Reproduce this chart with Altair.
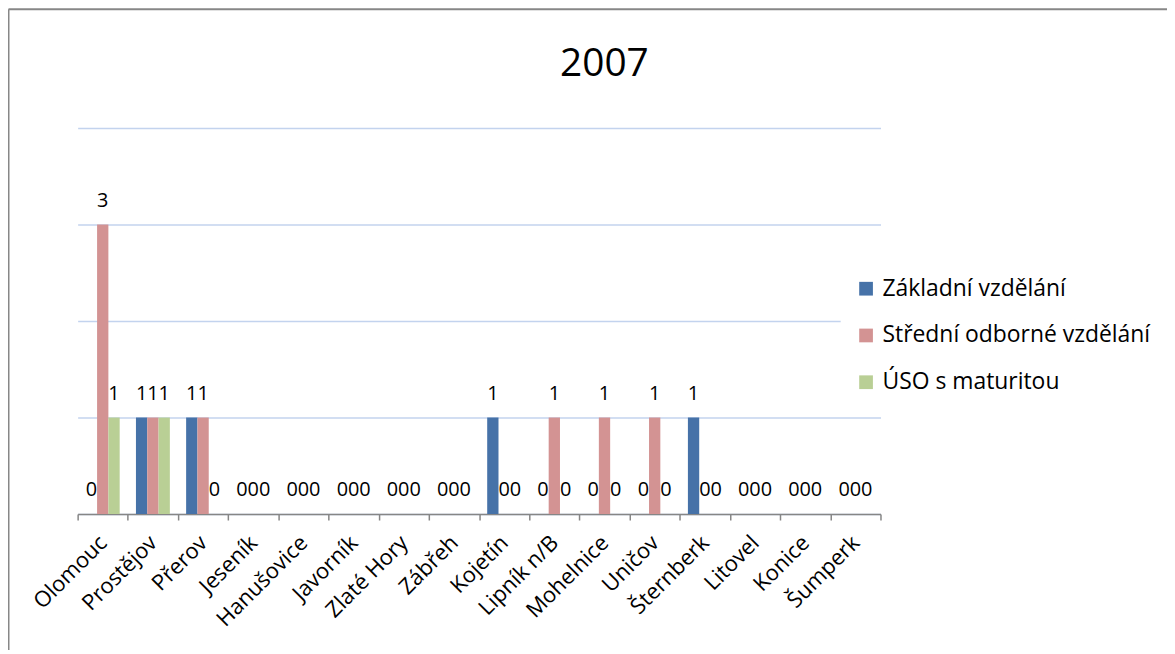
import altair as alt
import pandas as pd

categories = ["Olomouc", "Prostějov", "Přerov", "Jeseník", "Hanušovice", "Javorník",
              "Zlaté Hory", "Zábřeh", "Kojetín", "Lipník n/B", "Mohelnice", "Uničov",
              "Šternberk", "Litovel", "Konice", "Šumperk"]
series = ["Základní vzdělání", "Střední odborné vzdělání", "ÚSO s maturitou"]
zakladni = [0, 1, 1, 0, 0, 0, 0, 0, 1, 0, 0, 0, 1, 0, 0, 0]
stredni = [3, 1, 1, 0, 0, 0, 0, 0, 0, 1, 1, 1, 0, 0, 0, 0]
uso = [1, 1, 0, 0, 0, 0, 0, 0, 0, 0, 0, 0, 0, 0, 0, 0]
colors = ["#4672A8", "#D39393", "#B9CF95"]
grid_values = [0, 1, 2, 3, 4]

rows = []
for s, vals in zip(series, [zakladni, stredni, uso]):
    for c, v in zip(categories, vals):
        rows.append({"mesto": c, "serie": s, "pocet": v})
df = pd.DataFrame(rows)

FONT = "Open Sans"

x_enc = alt.X("mesto:N", sort=categories, title=None,
              scale=alt.Scale(paddingInner=0, paddingOuter=0),
              axis=alt.Axis(labelAngle=-45, labelAlign="right", labelBaseline="middle",
                            labelFontSize=22, labelColor="#000000", labelFont=FONT,
                            labelPadding=19, tickBand="extent", tickSize=6,
                            tickColor="#868686", tickWidth=1.5, domainColor="#868686",
                            domainWidth=1.5, grid=False, labelOverlap=False,
                            labelLimit=300))
xo_enc = alt.XOffset("serie:N", sort=series,
                     scale=alt.Scale(paddingInner=0, paddingOuter=0.72))
y_enc = alt.Y("pocet:Q", title=None,
              scale=alt.Scale(domain=[0, 4], nice=False, zero=True),
              axis=alt.Axis(labels=False, ticks=False, domain=False, grid=True,
                            values=grid_values, labelOverlap=False,
                            gridColor="#C3D3EE", gridWidth=1.5))

bars = alt.Chart(df).mark_bar().encode(
    x=x_enc, xOffset=xo_enc, y=y_enc,
    color=alt.Color("serie:N", sort=series,
                    scale=alt.Scale(domain=series, range=colors),
                    legend=alt.Legend(title=None, orient="none", legendX=767, legendY=136,
                                      fillColor="#FFFFFF", padding=14,
                                      symbolType="square", symbolSize=190,
                                      symbolStrokeWidth=0, labelFontSize=23,
                                      labelFont=FONT, labelColor="#000000",
                                      rowPadding=23, labelOffset=5, labelLimit=400)),
)

labels = alt.Chart(df).mark_text(fontSize=20, font=FONT, color="#000000",
                                 baseline="alphabetic", dy=-18).encode(
    x=x_enc, xOffset=xo_enc, y=y_enc, text="pocet:Q",
)

frame_df = pd.DataFrame({"k": [0]})
frame_left = alt.Chart(frame_df).mark_rule(color="#878787", strokeWidth=2).encode(
    x=alt.value(-69.5), y=alt.value(-119.5), y2=alt.value(700))
frame_top = alt.Chart(frame_df).mark_rule(color="#878787", strokeWidth=2).encode(
    x=alt.value(-69.5), x2=alt.value(1200), y=alt.value(-119.5))

chart = alt.layer(bars, labels, frame_left, frame_top).properties(
    width=807, height=388,
    title=alt.TitleParams("2007", fontSize=39, font=FONT, fontWeight="normal",
                          color="#000000", anchor="middle", dx=126, offset=-107,
                          baseline="alphabetic", frame="group"),
    autosize=alt.AutoSizeParams(type="none"),
    padding={"left": 70, "top": 119, "right": 288, "bottom": 135},
).configure_view(stroke=None)

chart.save("out.html", embed_options={"renderer": "svg", "actions": False})
